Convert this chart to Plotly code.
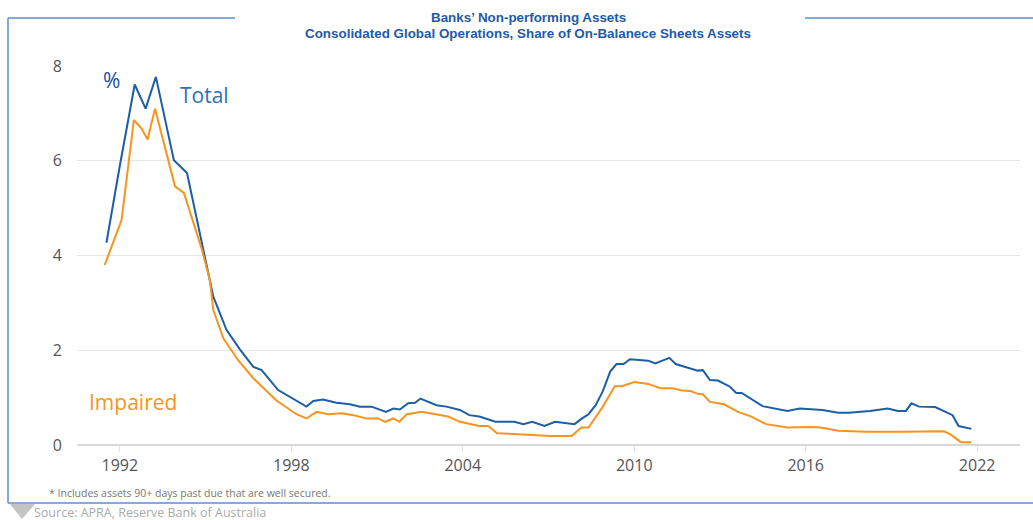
import plotly.graph_objects as go

# ---- data ----
years_total = [1991.53, 1992.0, 1992.52, 1992.9, 1993.26, 1993.89, 1994.35, 1994.94, 1995.27, 1995.73,
               1996.2, 1996.67, 1996.96, 1997.54, 1997.95, 1998.53, 1998.77, 1999.11, 1999.58, 2000.05,
               2000.4, 2000.81, 2001.31, 2001.57, 2001.8, 2002.09, 2002.33, 2002.52, 2003.08, 2003.43,
               2003.9, 2004.23, 2004.58, 2004.83, 2005.14, 2005.81, 2006.12, 2006.43, 2006.86, 2007.23,
               2007.91, 2008.15, 2008.4, 2008.65, 2008.89, 2009.16, 2009.38, 2009.63, 2009.85, 2010.49,
               2010.74, 2011.23, 2011.45, 2012.22, 2012.4, 2012.65, 2012.93, 2013.35, 2013.57, 2013.76,
               2014.49, 2015.36, 2015.79, 2016.59, 2017.14, 2017.51, 2018.25, 2018.87, 2019.23, 2019.51,
               2019.7, 2019.97, 2020.53, 2021.14, 2021.35, 2021.8]
values_total = [4.27, 5.9, 7.61, 7.10, 7.77, 6.01, 5.74, 4.11, 3.13, 2.43,
                2.02, 1.65, 1.58, 1.16, 1.02, 0.81, 0.93, 0.96, 0.89, 0.86,
                0.81, 0.81, 0.70, 0.77, 0.75, 0.88, 0.89, 0.98, 0.84, 0.81,
                0.74, 0.63, 0.60, 0.55, 0.49, 0.49, 0.44, 0.49, 0.40, 0.49,
                0.44, 0.55, 0.65, 0.84, 1.12, 1.55, 1.71, 1.71, 1.81, 1.78,
                1.72, 1.84, 1.71, 1.57, 1.58, 1.37, 1.36, 1.23, 1.10, 1.10,
                0.82, 0.72, 0.77, 0.74, 0.68, 0.68, 0.72, 0.77, 0.72, 0.72,
                0.88, 0.81, 0.80, 0.63, 0.40, 0.34]

years_impaired = [1991.47, 1992.06, 1992.49, 1992.76, 1992.97, 1993.23, 1993.93, 1994.24, 1994.86, 1995.15,
                  1995.27, 1995.62, 1996.14, 1996.67, 1996.96, 1997.48, 1998.18, 1998.53, 1998.88, 1999.29,
                  1999.76, 2000.17, 2000.63, 2001.04, 2001.28, 2001.57, 2001.78, 2002.04, 2002.56, 2003.08,
                  2003.49, 2003.9, 2004.58, 2004.89, 2005.2, 2006.43, 2007.05, 2007.81, 2008.15, 2008.4,
                  2008.89, 2009.32, 2009.57, 2010.0, 2010.49, 2010.92, 2011.33, 2011.66, 2011.97, 2012.22,
                  2012.4, 2012.65, 2013.14, 2013.63, 2014.06, 2014.62, 2015.36, 2016.16, 2016.53, 2017.14,
                  2018.13, 2019.36, 2020.1, 2020.84, 2021.08, 2021.43, 2021.8]
values_impaired = [3.80, 4.75, 6.86, 6.68, 6.45, 7.10, 5.46, 5.32, 4.15, 3.48,
                   2.85, 2.25, 1.79, 1.41, 1.24, 0.94, 0.65, 0.56, 0.70, 0.65,
                   0.67, 0.63, 0.56, 0.56, 0.49, 0.56, 0.49, 0.65, 0.70, 0.65,
                   0.60, 0.49, 0.40, 0.40, 0.25, 0.21, 0.19, 0.19, 0.37, 0.37,
                   0.80, 1.24, 1.24, 1.33, 1.29, 1.20, 1.20, 1.15, 1.14, 1.08,
                   1.07, 0.91, 0.86, 0.70, 0.61, 0.44, 0.37, 0.38, 0.37, 0.30,
                   0.28, 0.28, 0.29, 0.29, 0.22, 0.06, 0.06]

x_tick_values = [1992, 1998, 2004, 2010, 2016, 2022]
x_tick_labels = ["1992", "1998", "2004", "2010", "2016", "2022"]
y_tick_values = [0, 2, 4, 6, 8]

title_line1 = "Banks’ Non-performing Assets"
title_line2 = "Consolidated Global Operations, Share of On-Balanece Sheets Assets"
footnote = "* Includes assets 90+ days past due that are well secured."
source = "Source: APRA, Reserve Bank of Australia"

BLUE = "#1c5ea8"
ORANGE = "#f7941d"
FRAME = "#5b8fd0"

W, H = 1033, 520
ML, MR, MT, MB = 77, 13, 66, 75
PW = W - ML - MR
PH = H - MT - MB


def px(x):
    return (x - ML) / PW


def py(y):
    return (H - MB - y) / PH


fig = go.Figure()
fig.add_trace(go.Scatter(x=years_total, y=values_total, mode="lines",
                         line=dict(color=BLUE, width=2), name="Total", hoverinfo="x+y"))
fig.add_trace(go.Scatter(x=years_impaired, y=values_impaired, mode="lines",
                         line=dict(color=ORANGE, width=2), name="Impaired", hoverinfo="x+y"))

fig.update_layout(
    width=W, height=H,
    margin=dict(l=ML, r=MR, t=MT, b=MB),
    paper_bgcolor="white", plot_bgcolor="white",
    showlegend=False,
    font=dict(family="Open Sans, sans-serif", color="#555"),
    xaxis=dict(range=[1990.5, 2023.5], tickvals=x_tick_values, ticktext=x_tick_labels,
               showgrid=False, zeroline=False, showline=False,
               ticks="outside", ticklen=6, tickcolor="#e3e3e3", tickwidth=1,
               tickfont=dict(size=16, color="#555")),
    yaxis=dict(range=[0, 8], tickvals=y_tick_values, showgrid=True, gridcolor="#e6e6e6",
               gridwidth=1, zeroline=True, zerolinecolor="#d9d9d9", zerolinewidth=2,
               showline=False, ticks="", ticklabelstandoff=14,
               tickfont=dict(size=16, color="#555")),
)

shapes = [
    dict(type="line", xref="paper", yref="paper", x0=px(8), x1=px(235), y0=py(18), y1=py(18),
         line=dict(color=FRAME, width=1.5)),
    dict(type="line", xref="paper", yref="paper", x0=px(805), x1=px(1033), y0=py(18), y1=py(18),
         line=dict(color=FRAME, width=1.5)),
    dict(type="line", xref="paper", yref="paper", x0=px(8), x1=px(8), y0=py(18), y1=py(503),
         line=dict(color=FRAME, width=1.5)),
    dict(type="line", xref="paper", yref="paper", x0=px(8), x1=px(1033), y0=py(503), y1=py(503),
         line=dict(color=FRAME, width=1.5)),
    dict(type="path", xref="paper", yref="paper",
         path=f"M {px(10)} {py(504)} L {px(35)} {py(504)} L {px(22)} {py(519)} Z",
         fillcolor="#c4c4c4", line=dict(width=0)),
]
fig.update_layout(shapes=shapes)

TITLE_FONT = "Liberation Sans Narrow, Arial Narrow, Liberation Sans, sans-serif"
ann = [
    dict(text=f"<b>{title_line1}</b>", x=px(528), y=py(17), xanchor="center", yanchor="middle",
         font=dict(family=TITLE_FONT, size=13.4, color="#1f5aa6")),
    dict(text=f"<b>{title_line2}</b>", x=px(528), y=py(34), xanchor="center", yanchor="middle",
         font=dict(family=TITLE_FONT, size=13.4, color="#1f5aa6")),
    dict(text="%", x=px(111), y=py(80), xanchor="center", yanchor="middle",
         font=dict(size=21, color="#1a4f9c")),
    dict(text="Total", x=px(178), y=py(95), xanchor="left", yanchor="middle",
         font=dict(size=21, color="#2f6fb7")),
    dict(text="Impaired", x=px(87), y=py(402), xanchor="left", yanchor="middle",
         font=dict(size=21, color=ORANGE)),
    dict(text=footnote, x=px(47), y=py(493), xanchor="left", yanchor="middle",
         font=dict(size=10.5, color="#777")),
    dict(text=source, x=px(32), y=py(512), xanchor="left", yanchor="middle",
         font=dict(size=12.5, color="#aaa")),
]
for a in ann:
    a.update(xref="paper", yref="paper", showarrow=False)
fig.update_layout(annotations=ann)

fig.write_html("out.html",
               config={"displayModeBar": False},
               post_script="document.body.style.margin='0';document.body.style.overflow='hidden';")
